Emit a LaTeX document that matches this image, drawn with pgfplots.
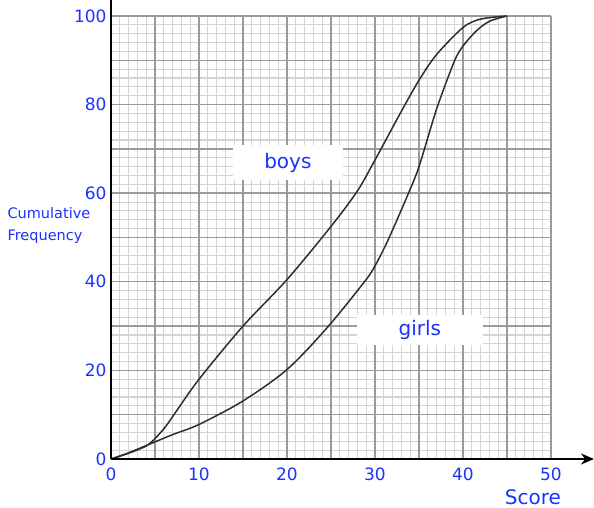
\documentclass[border=0pt]{standalone}
\usepackage{pgfplots}
\pgfplotsset{compat=1.18}
\usepackage{fontspec}
\setmainfont{DejaVu Sans}
\usetikzlibrary{arrows.meta}
\definecolor{lblue}{RGB}{25,50,255}
\definecolor{majg}{RGB}{155,155,155}
\definecolor{ming}{RGB}{212,212,212}
\definecolor{curve}{RGB}{45,45,45}
\begin{document}
\begin{tikzpicture}
\begin{axis}[
  scale only axis, width=440pt, height=443pt,
  xmin=0, xmax=50, ymin=0, ymax=100,
  axis line style={draw=none},
  xtick={0,5,...,50}, xticklabels={0,,10,,20,,30,,40,,50},
  ytick={0,10,...,100}, yticklabels={0,,20,,40,,60,,80,,100},
  minor x tick num=4, minor y tick num=4,
  major tick length=0pt, minor tick length=0pt,
  grid=minor,
  minor grid style={ming, line width=1.1pt},
  extra x ticks={5,10,...,50}, extra y ticks={10,20,...,100},
  extra x tick labels={}, extra y tick labels={},
  extra tick style={grid=major, major grid style={majg, line width=1.4pt}},
  tick label style={font=\fontsize{17}{19}\selectfont, text=lblue},
  /pgf/number format/assume math mode=true,
  xticklabel style={anchor=north, yshift=-5pt},
  yticklabel style={anchor=east, xshift=-1pt},
  clip=false,
]
\addplot[smooth, line width=1.5pt, color=curve] coordinates {
(0,0) (2,1.3) (4.2,3.2) (6,6.8) (7.5,11) (10,18) (15,30) (20,40.5)
(25,52.5) (28,60.5) (30,67.5) (33,78.5) (35,85.5) (37,91.3) (40,97.4) (42,99.3) (45,100)};
\addplot[smooth, line width=1.5pt, color=curve] coordinates {
(0,0) (2,1.4) (4.2,3.2) (7,5.5) (10,7.8) (15,13.1) (20,20.2) (24.5,29.5)
(28.8,40) (30,43.6) (31.5,49.5) (33.7,59.5) (35,66) (37,79) (39,89.7)
(40,93.2) (41.5,96.6) (43,98.8) (45,100)};
\node[fill=white, minimum width=110pt, minimum height=35pt, text=lblue,
  font=\fontsize{20}{22}\selectfont] at (axis cs:20.1,66.9) {boys};
\node[fill=white, minimum width=126pt, minimum height=30pt, text=lblue,
  font=\fontsize{20}{22}\selectfont] at (axis cs:35.1,29.1) {girls};
\coordinate (O) at (axis cs:0,0);
\end{axis}
\draw[line width=2.2pt] (O) -- ++(0,470pt);
\draw[line width=2.2pt, -{Stealth[length=13pt,width=11pt]}] (O) -- ++(483pt,0);
\path (O) ++(422pt,-38pt) node[text=lblue, font=\fontsize{20}{22}\selectfont] {Score};
\path (O) ++(-107pt,233pt) node[anchor=west, align=left, text=lblue,
  font=\fontsize{14.5}{22}\selectfont] {Cumulative\\Frequency};
\pgfresetboundingbox
\path (O) ++(-111pt,-49pt) rectangle ++(594pt,508pt);
\end{tikzpicture}
\end{document}
